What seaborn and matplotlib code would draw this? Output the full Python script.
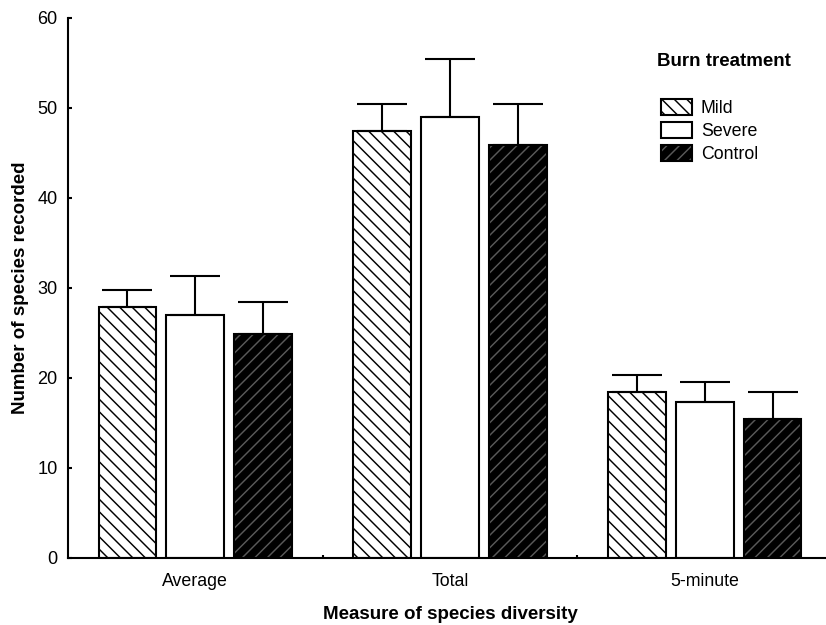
import numpy as np
import pandas as pd
import matplotlib
matplotlib.use("Agg")
import matplotlib.pyplot as plt
import matplotlib.colors as mcolors
from matplotlib.patches import Patch
import seaborn as sns

# ---- data ----
categories = ["Average", "Total", "5-minute"]
treatments = ["Mild", "Severe", "Control"]
mild_mean = [27.9, 47.4, 18.4]
severe_mean = [27.0, 49.0, 17.3]
control_mean = [24.9, 45.9, 15.4]
mild_err = [1.9, 3.0, 1.9]
severe_err = [4.3, 6.4, 2.3]
control_err = [3.6, 4.6, 3.1]
yticks = [0, 10, 20, 30, 40, 50, 60]

sns.set_theme(style="white")
plt.rcParams["font.family"] = ["Liberation Sans", "DejaVu Sans"]
plt.rcParams["hatch.linewidth"] = 0.7

DPI = 150
fig = plt.figure(figsize=(826 / DPI, 625 / DPI), dpi=DPI)
ax = fig.add_axes([68 / 826, 67 / 625, 764 / 826, 540 / 625])

df = pd.DataFrame({
    "measure": categories * 3,
    "treatment": [t for t in treatments for _ in categories],
    "species": mild_mean + severe_mean + control_mean,
})

sns.barplot(data=df, x="measure", y="species", hue="treatment",
            order=categories, hue_order=treatments, errorbar=None,
            width=0.8, gap=0.15, legend=False, ax=ax,
            linewidth=1.0, edgecolor="black", saturation=1)

styles = [
    dict(face="white", hatch="\\\\\\\\", hcolor="black"),
    dict(face="white", hatch=None, hcolor="black"),
    dict(face="black", hatch="////", hcolor="0.35"),
]
errs = [mild_err, severe_err, control_err]

for cont, st, err in zip(ax.containers, styles, errs):
    xs, ys = [], []
    for bar in cont:
        bar.set_facecolor(st["face"])
        bar.set_edgecolor("black")
        if st["hatch"]:
            bar.set_hatch(st["hatch"])
            bar._hatch_color = mcolors.to_rgba(st["hcolor"])
        xs.append(bar.get_x() + bar.get_width() / 2)
        ys.append(bar.get_height())
    ax.errorbar(xs, ys, yerr=[np.zeros(len(err)), err], fmt="none",
                ecolor="black", elinewidth=1.0, capsize=12, capthick=1.0,
                zorder=1)

ax.set_xlim(-0.5, 2.5)
ax.set_ylim(0, 60)
ax.set_yticks(yticks)
ax.set_xticks([0.5, 1.5], minor=True)
ax.tick_params(axis="y", which="major", direction="in", length=2, width=1,
               pad=5, labelsize=8.7, colors="black", left=True)
ax.tick_params(axis="x", which="major", length=0, pad=7, labelsize=8.5,
               colors="black")
ax.tick_params(axis="x", which="minor", direction="in", length=1.5, width=1,
               bottom=True, colors="black")

for s in ["top", "right"]:
    ax.spines[s].set_visible(False)
for s in ["left", "bottom"]:
    ax.spines[s].set_color("black")
    ax.spines[s].set_linewidth(1.0)

ax.set_xlabel("Measure of species diversity", fontweight="bold", fontsize=9,
              labelpad=8, color="black")
ax.set_ylabel("Number of species recorded", fontweight="bold", fontsize=9,
              labelpad=4, color="black")

handles = []
for t, st in zip(treatments, styles):
    h = Patch(facecolor=st["face"], edgecolor="black", linewidth=1.0,
              hatch=st["hatch"], label=t)
    if st["hatch"]:
        h._hatch_color = mcolors.to_rgba(st["hcolor"])
    handles.append(h)

fig.text(657 / 826, 1 - 62 / 625, "Burn treatment", fontweight="bold",
         fontsize=9, ha="left", va="center", color="black")

leg = ax.legend(handles=handles, loc="upper left",
                bbox_to_anchor=(661 / 826, 1 - 99 / 625),
                bbox_transform=fig.transFigure, frameon=False, fontsize=8.5,
                handlelength=1.75, handleheight=1.02, handletextpad=0.5,
                labelspacing=0.28, borderpad=0.0, borderaxespad=0.0)
for txt in leg.get_texts():
    txt.set_color("black")

fig.savefig("out.png", dpi=DPI)
